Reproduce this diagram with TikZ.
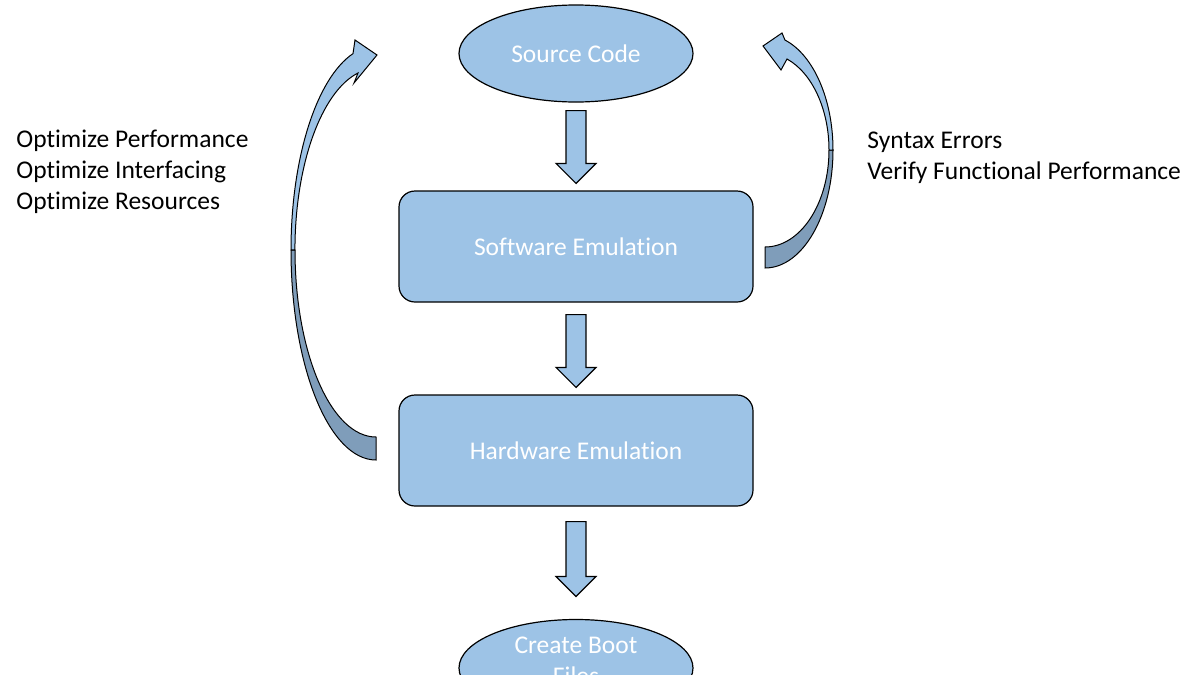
\documentclass[tikz,border=0pt]{standalone}
\usepackage{fontspec}
\setmainfont{Carlito}[Ligatures=NoCommon]
\usetikzlibrary{shapes.geometric,calc}
\definecolor{boxblue}{HTML}{9DC3E6}
\definecolor{backblue}{HTML}{7F9DBA}
\newcommand\dnarrow[2]{%
  \draw[blockarrow] let \p1=#1, \p2=#2 in
    (\x1-5pt,\y1) -- (\x1+5pt,\y1) -- (\x1+5pt,\y2+10pt) -- (\x1+10pt,\y2+10pt)
    -- (\x2,\y2) -- (\x1-10pt,\y2+10pt) -- (\x1-5pt,\y2+10pt) -- cycle;}
\begin{document}
\begin{tikzpicture}[x=0.5pt,y=-0.5pt,
  txt/.style={font=\fontsize{12.75}{15.5}\selectfont},
  ellipsebox/.style={txt,ellipse,draw=black,line width=0.6pt,fill=boxblue,text=white,
     minimum width=117pt,minimum height=48.5pt,inner sep=0pt,align=center},
  procbox/.style={txt,rectangle,rounded corners=8pt,draw=black,line width=0.6pt,fill=boxblue,
     text=white,minimum width=177pt,minimum height=55.5pt,inner sep=0pt},
  blockarrow/.style={draw=black,line width=0.6pt,fill=boxblue,line join=miter},
  curvelight/.style={draw=black,line width=0.5pt,fill=boxblue},
  curvedark/.style={draw=black,line width=0.5pt,fill=backblue},
  lbl/.style={txt,align=left,inner sep=0pt,text=black}]
\useasboundingbox (0,0) rectangle (1200,675);
% nodes
\node[ellipsebox] (src) at (576,53.5) {Source Code};
\node[procbox] (sw) at (576,246.5) {Software Emulation};
\node[procbox] (hw) at (576,450.5) {Hardware Emulation};
\node[ellipsebox] (boot) at (576,668) {\raisebox{2.5pt}[\height][\depth]{\begin{tabular}{@{}c@{}}Create Boot\\Files\end{tabular}}};
% block arrows
\coordinate (a1s) at ($(src.south)+(0,8)$);
\coordinate (a1e) at ($(sw.north)+(0,-7)$);
\coordinate (a2s) at ($(sw.south)+(0,12)$);
\coordinate (a2e) at ($(hw.north)+(0,-7)$);
\coordinate (a3s) at ($(hw.south)+(0,15)$);
\coordinate (a3e) at ($(boot.north)+(0,-22.5)$);
\dnarrow{(a1s)}{(a1e)}
\dnarrow{(a2s)}{(a2e)}
\dnarrow{(a3s)}{(a3e)}
% left curved arrow
\filldraw[curvedark] (376,460) arc[start angle=90, end angle=180, x radius=85, y radius=210]
  -- (295,250) arc[start angle=180, end angle=90, x radius=81, y radius=187] -- cycle;
\filldraw[curvelight] (291,250) arc[start angle=180, end angle=254.3, x radius=85, y radius=204]
  -- (355,40) -- (377,55) -- (354,83) -- (358,73)
  arc[start angle=257.2, end angle=180, x radius=81, y radius=181.5] -- cycle;
% right curved arrow
\filldraw[curvedark] (765,268) arc[start angle=90, end angle=0, x radius=68, y radius=118]
  -- (829,150) arc[start angle=0, end angle=90, x radius=64, y radius=97] -- cycle;
\filldraw[curvelight] (833,150) arc[start angle=0, end angle=-72.9, x radius=68, y radius=115]
  -- (782,33) -- (763,46) -- (781,70) -- (787,59)
  arc[start angle=-69.9, end angle=0, x radius=64, y radius=97] -- cycle;
% labels
\node[lbl, anchor=north west] (opt) at (16,130) {Optimize Performance\\Optimize Interfacing\\Optimize Resources};
\node[lbl, anchor=north west] (syn) at (867,132) {Syntax Errors\\Verify Functional Performance};
\end{tikzpicture}
\end{document}
